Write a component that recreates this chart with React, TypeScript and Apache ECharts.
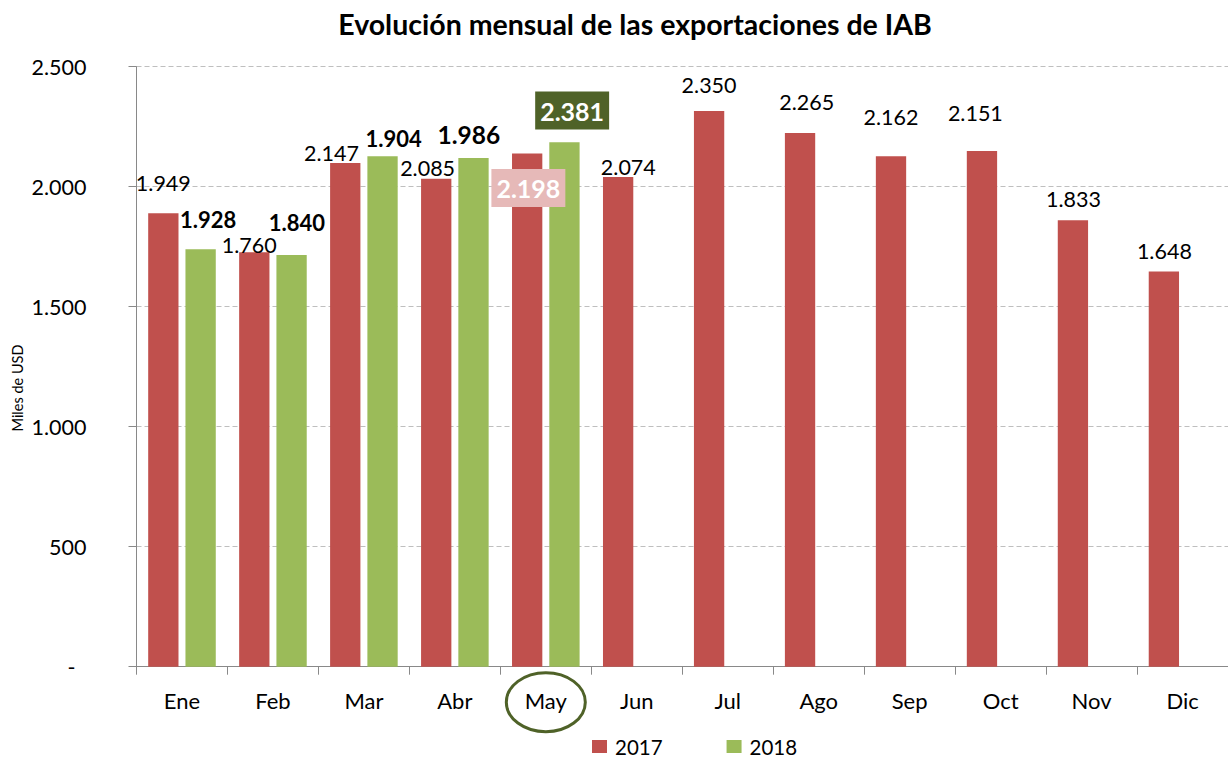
import React, { useEffect, useRef } from "react";
import * as echarts from "echarts";

const MONTHS = ["Ene", "Feb", "Mar", "Abr", "May", "Jun", "Jul", "Ago", "Sep", "Oct", "Nov", "Dic"];
const SERIES_NAMES = ["2017", "2018"];
// bar heights as drawn
const VALUES_2017 = [1889, 1727, 2099, 2033, 2138, 2040, 2315, 2224, 2127, 2149, 1860, 1647];
const VALUES_2018 = [1739, 1715, 2127, 2120, 2185];
// numbers printed on the labels
const LABELS_2017 = [1949, 1760, 2147, 2085, 2198, 2074, 2350, 2265, 2162, 2151, 1833, 1648];
const LABELS_2018 = [1928, 1840, 1904, 1986, 2381];
const Y_TICKS = [0, 500, 1000, 1500, 2000, 2500];

// label nudges (layout only), relative to a label centred 10px above the bar top
const NUDGE_2017: [number, number][] = [
  [0, -20.6], [-5, 2.5], [-13.7, -0.3], [-8.6, -0.4], [1.2, 53.3], [10.2, 0.3],
  [0, -16], [6.7, -20.7], [0, -29.6], [-6.6, -28.3], [0.5, -11], [0.5, -10.6],
];
const NUDGE_2018: [number, number][] = [
  [7.5, -20], [5.4, -22.3], [11.1, -8], [-4.6, -13], [7.7, -12.8],
];

const FONT = "Lato, 'Open Sans', 'Noto Sans', sans-serif";
const RED = "#C0504D";
const GREEN = "#9BBB59";
const DARK_GREEN = "#4F6228";
const PINK = "#E6B9B8";
const LABEL_LH = 16;

const fmt = (v: number) => String(v).replace(/\B(?=(\d{3})+(?!\d))/g, ".");

function buildItems(values: number[], labels: number[], nudges: [number, number][], year: string) {
  return values.map((v, i) => {
    const isMay = i === 4;
    let label: any;
    if (isMay) {
      label = {
        show: true,
        position: "top",
        distance: 0,
        offset: nudges[i],
        formatter: fmt(labels[i]),
        fontFamily: FONT,
        fontSize: 25,
        fontWeight: "bold",
        color: "#fff",
        lineHeight: 24,
        backgroundColor: year === "2017" ? PINK : DARK_GREEN,
        padding: [7, 5, 7, 5],
      };
    } else {
      label = {
        show: true,
        position: "top",
        distance: 0,
        offset: [nudges[i][0], nudges[i][1] - 10 + LABEL_LH / 2],
        formatter: fmt(labels[i]),
        fontFamily: FONT,
        fontSize: year === "2017" ? 21.5 : i === 3 ? 24.5 : 22,
        fontWeight: year === "2017" ? "normal" : "bold",
        color: "#000",
        lineHeight: LABEL_LH,
      };
    }
    return { value: v, label };
  });
}

export default function App() {
  const ref = useRef<HTMLDivElement>(null);
  useEffect(() => {
    if (!ref.current) return;
    const chart = echarts.init(ref.current, null, { renderer: "svg" });
    const option: any = {
      animation: false,
      backgroundColor: "#fff",
      title: {
        text: "Evolución mensual de las exportaciones de IAB",
        left: 630,
        top: 4,
        textAlign: "center",
        textStyle: { fontFamily: FONT, fontSize: 28.5, fontWeight: "bold", color: "#000" },
      },
      legend: {
        data: SERIES_NAMES,
        left: 592,
        top: 736,
        padding: 0,
        icon: "rect",
        itemWidth: 15,
        itemHeight: 13,
        itemGap: 64,
        textStyle: { fontFamily: FONT, fontSize: 20.5, lineHeight: 20, color: "#000", padding: [0, 0, 0, 3] },
      },
      grid: { left: 136.5, right: -6, top: 66.7, bottom: 92.3 },
      xAxis: {
        type: "category",
        data: MONTHS,
        axisLine: { lineStyle: { color: "#898989", width: 1 } },
        axisTick: { show: true, length: 8, lineStyle: { color: "#898989" } },
        axisLabel: { fontFamily: FONT, fontSize: 22, color: "#000", margin: 23 },
      },
      yAxis: {
        type: "value",
        min: Y_TICKS[0],
        max: Y_TICKS[Y_TICKS.length - 1],
        interval: 500,
        axisLine: { show: true, lineStyle: { color: "#898989", width: 1 } },
        axisTick: { show: true, length: 8, lineStyle: { color: "#898989" } },
        splitLine: { lineStyle: { color: "#BFBFBF", type: [5, 3], width: 1 } },
        axisLabel: {
          fontFamily: FONT,
          fontSize: 21.5,
          color: "#000",
          margin: 50,
          formatter: (v: number) => (v === 0 ? "{d|-}" : fmt(v)),
          rich: { d: { fontFamily: FONT, fontSize: 21.5, color: "#000", padding: [0, 11, 0, 0] } },
        },
      },
      series: [
        {
          name: SERIES_NAMES[0],
          type: "bar",
          itemStyle: { color: RED },
          barGap: "23%",
          barCategoryGap: "25.7%",
          data: buildItems(VALUES_2017, LABELS_2017, NUDGE_2017, "2017"),
        },
        {
          name: SERIES_NAMES[1],
          type: "bar",
          itemStyle: { color: GREEN },
          barGap: "23%",
          barCategoryGap: "25.7%",
          data: buildItems(VALUES_2018, LABELS_2018, NUDGE_2018, "2018"),
        },
      ],
      graphic: [
        {
          type: "text",
          x: 17,
          y: 388,
          rotation: Math.PI / 2,
          style: {
            text: "Miles de USD",
            fontFamily: FONT,
            fontSize: 14.5,
            fill: "#000",
            align: "center",
            verticalAlign: "middle",
          },
        },
      ],
    };
    chart.setOption(option);
    const mayX = chart.convertToPixel({ xAxisIndex: 0 }, "May") as unknown as number;
    chart.setOption({
      graphic: [
        option.graphic[0],
        {
          type: "ellipse",
          shape: { cx: mayX, cy: 702.2, rx: 39.5, ry: 29.5 },
          style: { fill: "none", stroke: DARK_GREEN, lineWidth: 3 },
        },
      ],
    });
    return () => chart.dispose();
  }, []);
  return (
    <div
      ref={ref}
      style={{ position: "fixed", left: 0, top: 0, width: 1228, height: 759, background: "#fff" }}
    />
  );
}
